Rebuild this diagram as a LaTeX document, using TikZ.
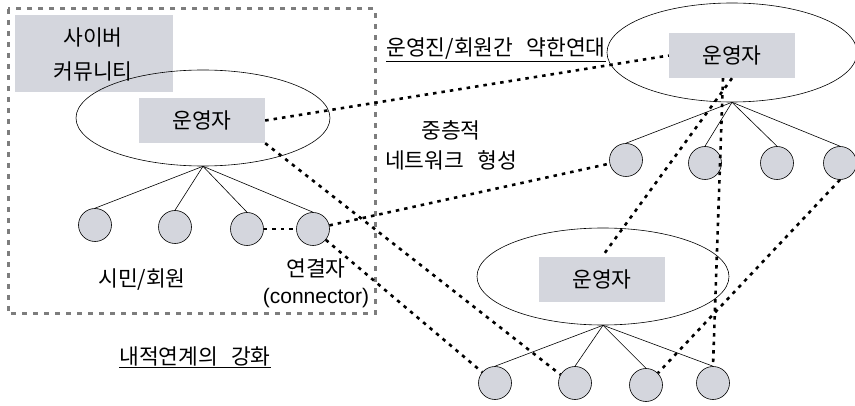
\documentclass[tikz,border=0pt]{standalone}
\usepackage{fontspec}
\setmainfont{Noto Sans CJK KR}
\newfontfamily\lat{Liberation Sans}
\usetikzlibrary{shapes.geometric,calc}
\definecolor{boxgray}{RGB}{212,214,221}
\definecolor{dashgray}{RGB}{125,125,125}
\newcommand{\wsp}{\hspace{0.6em}}
\tikzset{
  opbox/.style={fill=boxgray,minimum width=126pt,minimum height=45pt,inner sep=0pt,font=\fontsize{21.5}{23}\selectfont},
  oval/.style={draw,ellipse,line width=0.6pt,inner sep=0pt},
  member/.style={draw,circle,fill=boxgray,minimum size=33pt,inner sep=0pt,line width=0.6pt},
  tie/.style={line width=0.6pt},
  weak/.style={line width=2.6pt,dash pattern=on 3.5pt off 5pt},
  lbl/.style={font=\fontsize{21.5}{23}\selectfont,inner sep=0pt}
}
\begin{document}
\begin{tikzpicture}[x=1pt,y=-1pt]
\useasboundingbox (0,0) rectangle (855,406);
% community frame
\draw[dashgray,line width=3pt,dash pattern=on 5pt off 6pt] (8,9) rectangle (375,314);
\node[fill=boxgray,minimum width=158pt,minimum height=77pt,inner sep=0pt] (comm) at (94,53.5) {};
\node[lbl] (comm1) at (93,37) {사이버};
\node[lbl] (comm2) at (93,72) {커뮤니티};
% left group
\node[oval,minimum width=254pt,minimum height=96pt] (lE) at (203,118) {};
\node[opbox] (lOp) at (202,120.5) {운영자};
\node[member] (l1) at (95,225) {};
\node[member] (l2) at (175,227) {};
\node[member] (l3) at (247,229) {};
\node[member] (l4) at (313,229) {};
\foreach \c in {l1,l2,l3,l4} \draw[tie] (lE.south) -- (\c.north);
% right top group
\node[oval,minimum width=250pt,minimum height=99pt] (rE) at (732,52.5) {};
\node[opbox] (rOp) at (732,55.5) {운영자};
\node[member] (r1) at (626,160) {};
\node[member] (r2) at (705,163) {};
\node[member] (r3) at (777,163) {};
\node[member] (r4) at (840,163) {};
\foreach \c in {r1,r2,r3,r4} \draw[tie] (rE.south) -- (\c.north);
% bottom group
\node[oval,minimum width=252pt,minimum height=97pt] (bE) at (603,276.5) {};
\node[opbox] (bOp) at (602,279.5) {운영자};
\node[member] (b1) at (495,383) {};
\node[member] (b2) at (575,383) {};
\node[member] (b3) at (646,385) {};
\node[member] (b4) at (713,383) {};
\foreach \c in {b1,b2,b3,b4} \draw[tie] (bE.south) -- (\c.north);
% labels
\node[lbl] (citz) at (142,280) {시민/회원};
\node[lbl] (conn) at (316,268) {연결자};
\node[inner sep=0pt,font=\lat\fontsize{21}{22}\selectfont] (conn2) at (316,298) {(connector)};
\node[lbl] (weakl) at (496,50) {\underline{운영진/회원간\wsp 약한연대}};
\node[lbl] (multi1) at (451,130) {중층적};
\node[lbl] (multi2) at (451,160) {네트워크\wsp 형성};
\node[lbl] (inner) at (195,357) {\underline{내적연계의\wsp 강화}};
% weak ties
\draw[weak] (lOp.east) -- (rOp.west);
\draw[weak] (lOp.south east) -- (b2.150);
\draw[weak] (l4) -- (r1);
\draw[weak] (l3) -- (l4);
\draw[weak] (l4) -- (b1);
\draw[weak] (rOp.south) -- (bOp.north);
\draw[weak] ([xshift=-9pt]rOp.south) -- (b4.north);
\draw[weak] (r4.south) -- (b3.north east);
\end{tikzpicture}
\end{document}
